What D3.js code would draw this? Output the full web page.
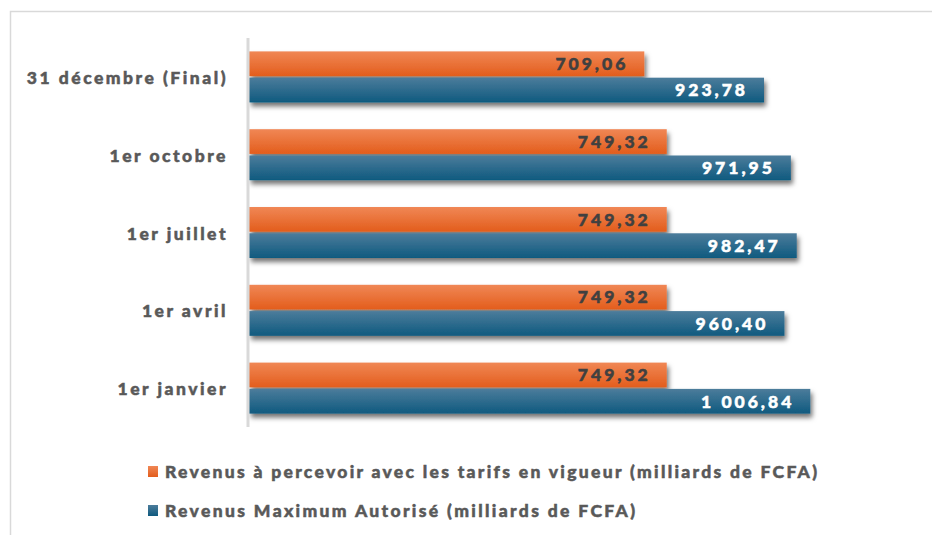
<!DOCTYPE html>
<html>
<head>
<meta charset="utf-8">
<script src="https://cdn.jsdelivr.net/npm/d3@7"></script>
<style>
  body { margin: 0; background: #fff; }
  text { font-family: Lato, "Open Sans", sans-serif; font-weight: 900; }
</style>
</head>
<body>
<script>
// données du graphique
const categories = ["31 décembre (Final)", "1er octobre", "1er juillet", "1er avril", "1er janvier"];
const series = ["Revenus à percevoir avec les tarifs en vigueur (milliards de FCFA)",
                "Revenus Maximum Autorisé (milliards de FCFA)"];
const revenusTarifs = [709.06, 749.32, 749.32, 749.32, 749.32];
const revenusMax = [923.78, 971.95, 982.47, 960.40, 1006.84];

const W = 932, H = 535;
const svg = d3.select("body").append("svg").attr("width", W).attr("height", H);

const defs = svg.append("defs");
const grads = [["gOr", "#f08755", "#e35d1c"], ["gBl", "#4c7c9b", "#0f5a7f"]];
grads.forEach(g => {
  const lg = defs.append("linearGradient").attr("id", g[0])
    .attr("x1", 0).attr("y1", 0).attr("x2", 0).attr("y2", 1);
  lg.append("stop").attr("offset", "0%").attr("stop-color", g[1]);
  lg.append("stop").attr("offset", "100%").attr("stop-color", g[2]);
});
const f = defs.append("filter").attr("id", "ombre")
  .attr("x", "-5%").attr("y", "-30%").attr("width", "115%").attr("height", "180%");
f.append("feDropShadow").attr("dx", 2).attr("dy", 4).attr("stdDeviation", 2.5)
  .attr("flood-color", "#000").attr("flood-opacity", 0.55);

// cadre
svg.append("rect").attr("x", 10.5).attr("y", 11.5).attr("width", 1000).attr("height", 600)
  .attr("fill", "none").attr("stroke", "#d9d9d9").attr("stroke-width", 1.5);

const x = d3.scaleLinear().domain([0, 1200]).range([249, 918]);
const y = d3.scaleBand().domain(categories).range([38, 427]);
const bw = y.bandwidth();
const ys = d3.scaleBand().domain([0, 1]).range([bw / 2 - 25.5, bw / 2 + 25.5]).paddingInner(0.06);

const rows = categories.map((c, i) => ({ c, vals: [revenusTarifs[i], revenusMax[i]] }));
const fills = ["url(#gOr)", "url(#gBl)"];
const labelCol = ["#404040", "#ffffff"];
const fmt = v => {
  const s = d3.format(",.2f")(v);
  return s.replace(/,/g, " ").replace(".", ",");
};

const g = svg.append("g");
rows.forEach(r => {
  r.vals.forEach((v, k) => {
    g.append("rect")
      .attr("x", x(0)).attr("y", y(r.c) + ys(k))
      .attr("width", x(v) - x(0)).attr("height", ys.bandwidth())
      .attr("fill", fills[k]).attr("filter", "url(#ombre)");
  });
});
rows.forEach(r => {
  r.vals.forEach((v, k) => {
    g.append("text")
      .attr("x", x(v) - 16).attr("y", y(r.c) + ys(k) + ys.bandwidth() / 2)
      .attr("dy", "0.36em").attr("text-anchor", "end")
      .attr("font-size", 17.5).attr("letter-spacing", 3)
      .attr("fill", labelCol[k]).attr("stroke", labelCol[k]).attr("stroke-width", 0.5)
      .text(fmt(v));
  });
});

// axe vertical
const yAxis = svg.append("g").attr("transform", `translate(${x(0) - 1},0)`)
  .call(d3.axisLeft(y).tickSize(0).tickPadding(20));
yAxis.select(".domain").attr("stroke", "#d9d9d9").attr("stroke-width", 3)
  .attr("d", "M0,38V427");
yAxis.selectAll("text").attr("font-size", 17.5).attr("fill", "#595959")
  .attr("stroke", "#595959").attr("stroke-width", 0.5)
  .attr("letter-spacing", 2.5).attr("font-family", "Lato, sans-serif")
  .attr("font-weight", 900).attr("dy", "0.4em");

// légende
const leg = svg.append("g");
const legLen = [652, 470];
series.forEach((s, i) => {
  const yy = 472 + i * 39;
  leg.append("rect").attr("x", 148).attr("y", yy - 6).attr("width", 10).attr("height", 11)
    .attr("fill", fills[i]);
  leg.append("text").attr("x", 165).attr("y", yy).attr("dy", "0.36em")
    .attr("font-size", 17.5).attr("fill", "#595959")
    .attr("stroke", "#595959").attr("stroke-width", 0.5)
    .attr("textLength", legLen[i]).attr("lengthAdjust", "spacing").text(s);
});
</script>
</body>
</html>
